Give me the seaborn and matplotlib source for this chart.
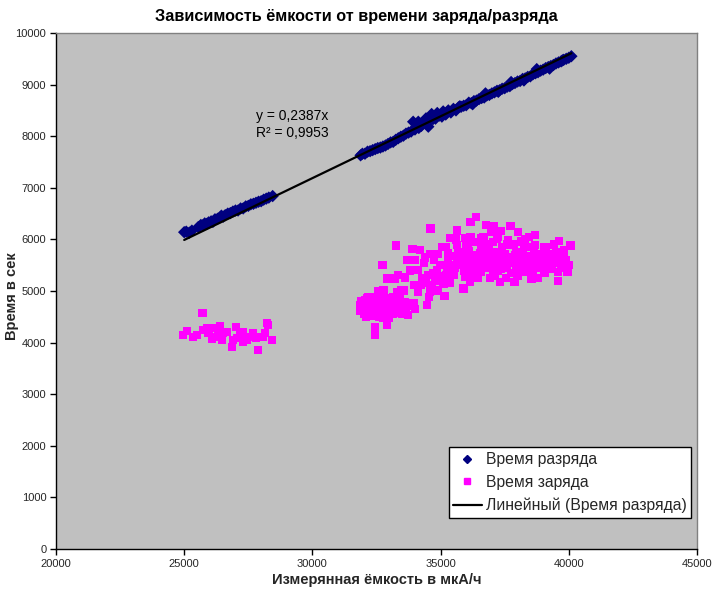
import numpy as np
import pandas as pd
import matplotlib
matplotlib.use("Agg")
import matplotlib.pyplot as plt
from matplotlib.lines import Line2D
import seaborn as sns

# ---------------- data ----------------
discharge_cap = [
    25000, 25080, 25200, 25300, 25550, 25650, 25720, 25800, 25880, 25950,
    26050, 26120, 26200, 26300, 26380, 26450, 26520, 26600, 26700, 26800,
    26900, 27000, 27100, 27200, 27300, 27400, 27500, 27600, 27700, 27800,
    27900, 28000, 28100, 28200, 28300, 28450,
    31880, 31950, 32050, 32150, 32250, 32350, 32450, 32550, 32650, 32750,
    32850, 32950, 33050, 33150, 33250, 33350, 33450, 33550, 33650, 33750,
    33850, 33930, 34000, 34130, 34150, 34250, 34430, 34400, 34520, 34500,
    34650, 34700, 34800, 34870, 34950, 35050, 35100, 35200, 35300, 35400,
    35500, 35600, 35700, 35800, 35900, 36000, 36100, 36200, 36300, 36400,
    36500, 36600, 36700, 36800, 36900, 37000, 37100, 37200, 37300, 37400,
    37500, 37600, 37700, 37800, 37900, 38000, 38100, 38200, 38300, 38400,
    38500, 38600, 38700, 38800, 38900, 39000, 39100, 39200, 39300, 39400,
    39500, 39600, 39700, 39800, 39900, 40000, 40100,
    35250, 35750, 36250, 36750, 37250, 37750, 38250, 38750, 39250, 39750,
]
discharge_time = [
    6140, 6150, 6130, 6170, 6240, 6280, 6270, 6310, 6300, 6330,
    6350, 6340, 6390, 6400, 6420, 6460, 6440, 6470, 6500, 6510,
    6540, 6560, 6560, 6600, 6600, 6640, 6650, 6680, 6690, 6710,
    6730, 6740, 6770, 6790, 6810, 6840,
    7630, 7660, 7660, 7700, 7710, 7730, 7750, 7770, 7780, 7800,
    7820, 7850, 7880, 7890, 7930, 7960, 7990, 8010, 8050, 8070,
    8090, 8280, 8130, 8280, 8160, 8200, 8345, 8250, 8185, 8290,
    8430, 8330, 8340, 8450, 8400, 8380, 8480, 8420, 8500, 8460,
    8530, 8500, 8560, 8570, 8590, 8600, 8650, 8640, 8680, 8690,
    8720, 8740, 8750, 8790, 8800, 8830, 8850, 8880, 8890, 8920,
    8930, 8960, 8970, 9010, 9030, 9060, 9070, 9110, 9120, 9150,
    9160, 9200, 9220, 9240, 9270, 9290, 9320, 9340, 9360, 9380,
    9410, 9430, 9450, 9480, 9500, 9520, 9550,
    8460, 8580, 8620, 8830, 8860, 9050, 9080, 9300, 9310, 9470,
]

charge_cap = [
    # first group
    25720, 25100, 24965, 25355, 25745, 25877, 26072, 26396, 26201, 26072,
    26463, 26657, 27020, 26853, 27048, 27305, 27282, 27438, 27695, 27890,
    27866, 28151, 28217, 28280, 28412, 28085, 26525, 26330, 27176, 27566,
    25500, 26900, 27800, 25950,
    # second group, left core
    31850, 31900, 31950, 32000, 32050, 32100, 32150, 32200, 32250, 32300,
    32350, 32400, 32450, 32450, 32500, 32550, 32600, 32650, 32700, 32750,
    32800, 32850, 32900, 32900, 32950, 33000, 33050, 33100, 33150, 33200,
    33250, 33300, 33350, 33400, 33450, 33500, 33550, 33600, 33650,
    32570, 32770, 33160, 33290, 33480, 32180, 31920,
    33740, 33940, 34000, 34460, 34130, 34590, 34910, 35150, 34550, 33550,
    32050, 32150, 32250, 32300, 32350, 32400, 32500, 32550, 32600, 32650,
    32700, 32750, 32800, 32850, 32950, 33000, 33050, 33100, 33150, 33200,
    33300, 33400, 33500, 33600, 33700, 32000, 32100, 31880, 32200, 33250,
    # middle band and outliers
    32740, 32900, 33220, 33350, 33610, 33260, 33910, 33680, 34000, 34350,
    34130, 33960, 34220, 34650, 34430, 35170, 35110, 34610, 34610, 34910,
    35300, 34850, 35240, 35690, 36020, 36410, 35500, 35950, 36150, 34980,
    34520, 35890, 35630, 35390, 36170, 35950, 35650, 35990, 36540, 36670,
    36670, 36170, 36380, 36770, 37080, 37730, 37340, 38010, 36990, 36600,
    37190, 37640, 38160, 38460, 38680, 38690, 39110, 39420, 39630, 40070,
    39810, 39760, 39590, 39590, 39270, 38810, 38550, 38490, 38100, 37880,
    37320, 36930, 36470, 36280, 39200, 38880,
    34300, 34700, 35000, 34750, 35200, 34400, 35050, 34200, 33800, 35350,
    34800, 35400,
    # dense main core
    35300, 35450, 35550, 35700, 35800, 35900, 36000, 36100, 36150, 36250,
    36300, 36400, 36500, 36550, 36600, 36700, 36750, 36850, 36900, 37000,
    37050, 37150, 37200, 37300, 37350, 37450, 37500, 37600, 37650, 37750,
    37800, 37900, 37950, 38050, 38150, 38200, 38300, 38350, 38450, 38550,
    38600, 38700, 38800, 38900, 38950, 39050, 39100, 39200, 39300, 39350,
    39450, 39500, 39650, 39700, 39800, 39900, 39950, 40000, 37100, 37550,
    38000, 36800, 37400, 38250, 38650, 35200, 35600, 36350, 37050, 37850,
    35400, 35650, 35850, 35950, 36050, 36200, 36350, 36450, 36650, 36700,
    36950, 37050, 37150, 37250, 37350, 37450, 37550, 37700, 37850, 37950,
    38100, 38250, 38350, 38500, 38650, 38750, 38850, 39000, 39150, 39250,
    39400, 39550, 39750, 39850, 36600, 36900, 37600, 38450, 39050, 37250,
    38300, 36050,
]
charge_time = [
    # first group
    4580, 4231, 4153, 4114, 4244, 4277, 4289, 4328, 4114, 4064,
    4050, 4211, 4308, 3909, 4083, 4211, 4017, 4050, 4180, 4114,
    3857, 4180, 4386, 4341, 4050, 4114, 4180, 4211, 4147, 4114,
    4150, 4050, 4090, 4180,
    # second group, left core
    4620, 4790, 4700, 4560, 4650, 4500, 4870, 4720, 4600, 4780,
    4680, 4540, 4300, 4150, 4820, 4640, 4720, 4560, 4900, 4680,
    4600, 4780, 4340, 4500, 4700, 4620, 4850, 4560, 4740, 4660,
    4580, 4800, 4700, 4620, 4720, 4560, 4680, 4780, 4620,
    4990, 5020, 4890, 4970, 5010, 4880, 4800,
    4540, 4760, 4650, 4730, 4990, 4990, 5010, 4900, 4890, 5010,
    4820, 4620, 4880, 4520, 4800, 4700, 4580, 4900, 4500, 4820,
    4620, 4480, 4900, 4560, 4860, 4480, 4700, 4820, 4560, 4880,
    4640, 4860, 4720, 4600, 4720, 4720, 4680, 4720, 4560, 4760,
    # middle band and outliers
    5510, 5240, 5240, 5310, 5260, 5880, 5820, 5600, 5600, 5540,
    5410, 5120, 5120, 5120, 5150, 5150, 5140, 6210, 5720, 5720,
    5730, 5410, 5470, 5500, 5500, 5470, 5310, 5280, 5180, 5280,
    5310, 5050, 6170, 6030, 6050, 6030, 5890, 5860, 5730, 5920,
    6050, 6340, 6440, 6280, 6260, 6260, 6160, 6140, 6140, 6020,
    6020, 5990, 5960, 6050, 6090, 5890, 5840, 5900, 5970, 5880,
    5670, 5500, 5370, 5190, 5500, 5250, 5230, 5440, 5410, 5170,
    5170, 5250, 5250, 5340, 5630, 5600,
    5250, 5350, 5500, 5600, 5300, 5650, 5850, 5800, 5400, 5150,
    5200, 5400,
    # dense main core
    5600, 5680, 5450, 5750, 5560, 5400, 5650, 5780, 5520, 5620,
    5420, 5700, 5550, 5380, 5800, 5600, 5450, 5700, 5520, 5620,
    5380, 5750, 5500, 5650, 5420, 5580, 5720, 5480, 5650, 5350,
    5560, 5700, 5450, 5600, 5520, 5750, 5380, 5620, 5500, 5680,
    5400, 5560, 5720, 5450, 5580, 5350, 5650, 5500, 5720, 5420,
    5600, 5750, 5550, 5450, 5800, 5600, 5380, 5500, 5300, 5250,
    5300, 5850, 5850, 5880, 5800, 5850, 6000, 5950, 5950, 5900,
    5500, 5620, 5700, 5550, 5450, 5700, 5600, 5450, 5700, 5500,
    5650, 5750, 5600, 5400, 5700, 5450, 5650, 5550, 5600, 5750,
    5500, 5650, 5450, 5600, 5500, 5650, 5550, 5700, 5450, 5600,
    5550, 5650, 5600, 5500, 5950, 5900, 5900, 5850, 5850, 6050,
    6000, 5900,
]

x_ticks = [20000, 25000, 30000, 35000, 40000, 45000]
y_ticks = [0, 1000, 2000, 3000, 4000, 5000, 6000, 7000, 8000, 9000, 10000]

title = "Зависимость ёмкости от времени заряда/разряда"
x_label = "Измерянная ёмкость в мкА/ч"
y_label = "Время в сек"
series_names = ["Время разряда", "Время заряда", "Линейный (Время разряда)"]
equation_text = "y = 0,2387x\nR² = 0,9953"

# ---------------- style ----------------
sns.set_style("white")
plt.rcParams["font.family"] = ["Liberation Sans", "DejaVu Sans"]

fig = plt.figure(figsize=(7.13, 5.94), dpi=100)
ax = fig.add_axes([56 / 713, 45 / 594, 641 / 713, 516 / 594])
ax.set_facecolor("#C0C0C0")

df_d = pd.DataFrame({"cap": discharge_cap, "time": discharge_time})
df_c = pd.DataFrame({"cap": charge_cap, "time": charge_time})

sns.scatterplot(data=df_c, x="cap", y="time", ax=ax, marker="s", s=36,
                color="#FF00FF", linewidth=0, edgecolor="none", zorder=3)
sns.scatterplot(data=df_d, x="cap", y="time", ax=ax, marker="D", s=40,
                color="#000080", linewidth=0, edgecolor="none", zorder=3)

# linear trend through origin for discharge
xd = np.asarray(discharge_cap, dtype=float)
yd = np.asarray(discharge_time, dtype=float)
slope = float(np.sum(xd * yd) / np.sum(xd * xd))
xs = np.array([xd.min(), xd.max()])
ax.plot(xs, slope * xs, color="black", lw=1.6, zorder=4)

ax.text(27800, 8220, equation_text, fontsize=10, va="center", ha="left",
        linespacing=1.3, color="black")

ax.set_xlim(20000, 45000)
ax.set_ylim(0, 10000)
ax.set_xticks(x_ticks)
ax.set_yticks(y_ticks)
ax.set_xticklabels([str(v) for v in x_ticks], fontsize=8)
ax.set_yticklabels([str(v) for v in y_ticks], fontsize=8)
ax.tick_params(axis="both", direction="out", length=4, width=1, color="black",
               pad=3, bottom=True, left=True)
ax.grid(False)

for side in ["left", "bottom"]:
    ax.spines[side].set_color("black")
    ax.spines[side].set_linewidth(1)
for side in ["top", "right"]:
    ax.spines[side].set_color("#808080")
    ax.spines[side].set_linewidth(1)

ax.set_xlabel(x_label, fontsize=10.5, fontweight="bold", labelpad=3)
ax.set_ylabel(y_label, fontsize=10.5, fontweight="bold")
ax.yaxis.set_label_coords(-0.057, 0.49)

fig.text(0.5, 1 - 17 / 594, title, fontsize=11.7,
         fontweight="bold", ha="center", va="center", color="black")

handles = [
    Line2D([], [], marker="D", color="#000080", linestyle="none", markersize=4.5),
    Line2D([], [], marker="s", color="#FF00FF", linestyle="none", markersize=4.5),
    Line2D([], [], color="black", lw=1.6),
]
leg = ax.legend(handles, series_names, loc="lower right",
                bbox_to_anchor=(0.9906, 0.060), borderaxespad=0, fontsize=11.3,
                frameon=True, fancybox=False, framealpha=1, edgecolor="black",
                handlelength=1.8, handletextpad=0.25, labelspacing=0.5,
                borderpad=0.3)
leg.get_frame().set_linewidth(1)
leg.get_frame().set_facecolor("white")

fig.savefig("out.png", dpi=100, facecolor="white")
